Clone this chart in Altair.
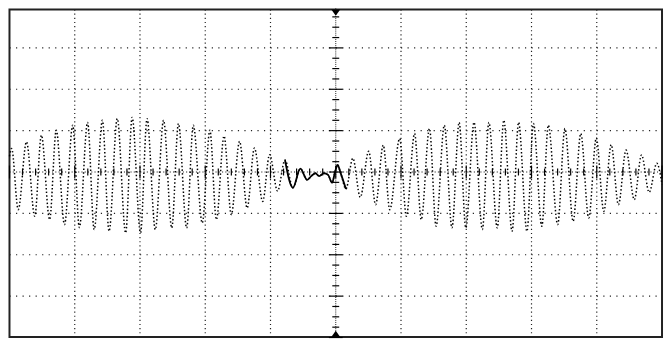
import altair as alt
import pandas as pd

trace_t = [0.000, 0.033, 0.134, 0.261, 0.387, 0.489, 0.615, 0.717, 0.843, 0.969,
           1.071, 1.197, 1.298, 1.424, 1.526, 1.652, 1.780, 1.880, 2.008, 2.108,
           2.235, 2.361, 2.487, 2.589, 2.715, 2.817, 2.954, 3.071, 3.171, 3.288,
           3.399, 3.526, 3.642, 3.754, 3.880, 3.986, 4.108, 4.222, 4.343, 4.457,
           4.563, 4.624, 4.689, 4.746, 4.817, 4.883, 4.943, 4.989, 5.027, 5.080,
           5.156, 5.262, 5.376, 5.505, 5.611, 5.728, 5.828, 5.980, 6.082, 6.208,
           6.310, 6.436, 6.538, 6.664, 6.781, 6.891, 6.993, 7.119, 7.247, 7.347,
           7.475, 7.575, 7.702, 7.802, 7.930, 8.030, 8.158, 8.258, 8.401, 8.512,
           8.638, 8.755, 8.877, 8.993, 9.108, 9.221, 9.332, 9.449, 9.575, 9.686,
           9.803, 9.920, 10.000]
trace_v = [0.38, 0.57, -0.91, 0.73, -1.07, 0.89, -1.15, 1.01, -1.27, 1.13,
           -1.34, 1.20, -1.39, 1.25, -1.43, 1.29, -1.47, 1.32, -1.47, 1.29,
           -1.39, 1.25, -1.35, 1.17, -1.35, 1.13, -1.23, 1.01, -1.15, 0.87,
           -1.03, 0.74, -0.87, 0.58, -0.71, 0.42, -0.46, 0.29, -0.38, 0.08,
           -0.19, -0.10, -0.03, -0.10, -0.03, -0.07, -0.26, 0.00, 0.17, -0.05,
           -0.41, 0.33, -0.61, 0.50, -0.79, 0.65, -0.91, 0.81, -1.07, 0.93,
           -1.15, 1.05, -1.31, 1.13, -1.35, 1.20, -1.35, 1.20, -1.39, 1.20,
           -1.35, 1.25, -1.43, 1.20, -1.43, 1.17, -1.31, 1.13, -1.27, 1.05,
           -1.19, 0.93, -1.11, 0.82, -0.95, 0.66, -0.79, 0.53, -0.67, 0.41,
           -0.49, 0.21, -0.30]

# Graticule
grid_x = [1, 2, 3, 4, 6, 7, 8, 9]
grid_y = [-3, -2, -1, 1, 2, 3]
x_ticks = [i / 5 for i in range(0, 51)]      # 5 subdivisions per division
y_ticks = [i / 4 for i in range(-16, 17)]    # 4 subdivisions per division

X_MIN, X_MAX = 0, 10
Y_MIN, Y_MAX = -3.988, 3.928

xs = alt.Scale(domain=[X_MIN, X_MAX], nice=False, zero=False)
ys = alt.Scale(domain=[Y_MIN, Y_MAX], nice=False, zero=False)

trace = pd.DataFrame({"t": trace_t, "v": trace_v})
center = trace.iloc[37:51]


def X(f):
    return alt.X(f, type="quantitative", scale=xs, axis=None)


def Y(f):
    return alt.Y(f, type="quantitative", scale=ys, axis=None)


vgrid_df = pd.DataFrame({"a": grid_x, "b0": [-4] * len(grid_x), "b1": [4] * len(grid_x)})
vgrid = alt.Chart(vgrid_df).mark_rule(
    color="#222", strokeWidth=1.2, strokeDash=[1.2, 2.975]
).encode(x=X("a"), y=Y("b0"), y2="b1:Q")

hgrid_df = pd.DataFrame({"b": grid_y, "a0": [0] * len(grid_y), "a1": [10] * len(grid_y)})
hgrid = alt.Chart(hgrid_df).mark_rule(
    color="#222", strokeWidth=1.2, strokeDash=[1.2, 5.385]
).encode(y=Y("b"), x=X("a0"), x2="a1:Q")

vcenter = alt.Chart(pd.DataFrame({"a": [5], "b0": [-4], "b1": [4]})).mark_rule(
    color="#222", strokeWidth=1, strokeDash=[1, 1.1]
).encode(x=X("a"), y=Y("b0"), y2="b1:Q")

hcenter = alt.Chart(pd.DataFrame({"b": [0], "a0": [0], "a1": [10]})).mark_rule(
    color="#222", strokeWidth=1.1, strokeDash=[1.1, 2.2]
).encode(y=Y("b"), x=X("a0"), x2="a1:Q")

vt = pd.DataFrame({"ty": y_ticks})
vt["major"] = [abs(v - round(v)) < 1e-9 for v in y_ticks]
vt["xa"] = [5 - (0.106 if m else 0.053) for m in vt["major"]]
vt["xb"] = [5 + (0.106 if m else 0.053) for m in vt["major"]]
vticks = alt.Chart(vt).mark_rule(color="black", strokeWidth=1.2).encode(
    y=Y("ty"), x=X("xa"), x2="xb:Q")

ht = pd.DataFrame({"tx": x_ticks})
ht["major"] = [abs(v - round(v)) < 1e-9 for v in x_ticks]
ht["ya"] = [-(0.156 if m else 0.084) for m in ht["major"]]
ht["yb"] = [(0.156 if m else 0.084) for m in ht["major"]]
hticks = alt.Chart(ht).mark_rule(color="black", strokeWidth=1.2).encode(
    x=X("tx"), y=Y("ya"), y2="yb:Q")

marker_df = pd.DataFrame({"mx": [5], "top": [Y_MAX], "bot": [Y_MIN]})
top_marker = alt.Chart(marker_df).mark_point(
    shape="M-1,0L1,0L0,1.4Z", size=81, filled=True, color="black", opacity=1
).encode(x=X("mx"), y=Y("top"))
bot_marker = alt.Chart(marker_df).mark_point(
    shape="M-1,0L1,0L0,-1.4Z", size=81, filled=True, color="black", opacity=1
).encode(x=X("mx"), y=Y("bot"))

dotted = alt.Chart(trace).mark_line(
    interpolate="monotone", color="black", strokeWidth=1.5, strokeDash=[1.5, 2.2]
).encode(x=X("t"), y=Y("v"))

solid = alt.Chart(center).mark_line(
    interpolate="monotone", color="black", strokeWidth=1.8
).encode(x=X("t"), y=Y("v"))

chart = alt.layer(
    vgrid, hgrid, vcenter, hcenter, vticks, hticks, dotted, solid, top_marker, bot_marker
).properties(
    width=658.5, height=330.5,
    autosize=alt.AutoSizeParams(type="none"),
    padding={"left": 1.5, "top": 0, "right": 2, "bottom": 2},
    background="white",
).configure_view(stroke="#222", strokeWidth=2)

chart.save("out.html", embed_options={"renderer": "svg", "actions": False})
